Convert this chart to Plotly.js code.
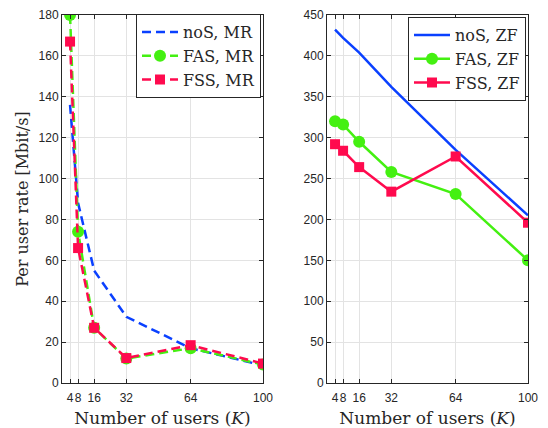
<!DOCTYPE html>
<html>
<head>
<meta charset="utf-8">
<script src="https://cdn.plot.ly/plotly-3.0.1.min.js"></script>
<style>html,body{margin:0;padding:0;background:#fff;}#chart{width:548px;height:428px;}</style>
</head>
<body>
<div id="chart"></div>
<script>
// Data
const users = [4, 8, 16, 32, 64, 100];
const noS_MR = [136, 88, 55, 32.4, 17, 8.6];
const FAS_MR = [180, 74, 27, 12, 17, 9];
const FSS_MR = [167, 66, 27, 12.2, 18.5, 9.5];
const noS_ZF = [432, 422, 404, 362, 285, 205];
const FAS_ZF = [320, 316, 295, 258, 231, 150];
const FSS_ZF = [292, 284, 264, 234, 277, 196];
const xTicks = [4, 8, 16, 32, 64, 100];
const leftYTicks = [0, 20, 40, 60, 80, 100, 120, 140, 160, 180];
const rightYTicks = [0, 50, 100, 150, 200, 250, 300, 350, 400, 450];

const BLUE = '#0a40ff', GREEN = '#44f011', RED = '#ff0a4e';
const serif = "'DejaVu Serif', 'Liberation Serif', serif";
const sans = "'Liberation Sans', Arial, sans-serif";

const traces = [
  {x: users, y: noS_MR, name: 'noS, MR', mode: 'lines', line: {color: BLUE, width: 2.5, dash: '9px,5px'}, xaxis: 'x', yaxis: 'y', legend: 'legend'},
  {x: users, y: FAS_MR, name: 'FAS, MR', mode: 'lines+markers', line: {color: GREEN, width: 2.5, dash: '9px,5px'}, marker: {symbol: 'circle', size: 12, color: GREEN}, xaxis: 'x', yaxis: 'y', legend: 'legend'},
  {x: users, y: FSS_MR, name: 'FSS, MR', mode: 'lines+markers', line: {color: RED, width: 2.5, dash: '9px,5px'}, marker: {symbol: 'square', size: 10, color: RED}, xaxis: 'x', yaxis: 'y', legend: 'legend'},
  {x: users, y: noS_ZF, name: 'noS, ZF', mode: 'lines', line: {color: BLUE, width: 2.5}, xaxis: 'x2', yaxis: 'y2', legend: 'legend2'},
  {x: users, y: FAS_ZF, name: 'FAS, ZF', mode: 'lines+markers', line: {color: GREEN, width: 2.5}, marker: {symbol: 'circle', size: 12, color: GREEN}, xaxis: 'x2', yaxis: 'y2', legend: 'legend2'},
  {x: users, y: FSS_ZF, name: 'FSS, ZF', mode: 'lines+markers', line: {color: RED, width: 2.5}, marker: {symbol: 'square', size: 10, color: RED}, xaxis: 'x2', yaxis: 'y2', legend: 'legend2'}
];

function xa(domain, anchor) {
  return {
    domain: domain, anchor: anchor, range: [0, 100], tickvals: xTicks, ticktext: xTicks.map(String),
    tickangle: 0, automargin: false, ticklabelstandoff: 4,
    showgrid: true, gridcolor: '#e3e3e3', gridwidth: 1, zeroline: false,
    showline: true, linecolor: '#262626', linewidth: 1, mirror: 'ticks',
    ticks: 'inside', ticklen: 4, tickcolor: '#262626',
    tickfont: {family: sans, size: 12, color: '#262626'},
    title: {text: 'Number of users (<i>K</i>)', font: {family: serif, size: 17, color: '#262626'}, standoff: 8}
  };
}
function ya(domain, anchor, range, ticks, title) {
  const o = {
    domain: domain, anchor: anchor, range: range, tickvals: ticks, automargin: false,
    showgrid: true, gridcolor: '#e3e3e3', gridwidth: 1, zeroline: false,
    showline: true, linecolor: '#262626', linewidth: 1, mirror: 'ticks',
    ticks: 'inside', ticklen: 4, tickcolor: '#262626',
    tickfont: {family: sans, size: 12, color: '#262626'}
  };
  if (title) o.title = {text: title, font: {family: serif, size: 16, color: '#262626'}, standoff: 5};
  return o;
}
const yd = [45/428, 413/428];
const legFont = {family: serif, size: 16, color: '#262626'};
const layout = {
  width: 548, height: 428,
  margin: {l: 0, r: 0, t: 0, b: 0},
  paper_bgcolor: '#fff', plot_bgcolor: '#fff',
  showlegend: true,
  xaxis: xa([62/548, 263/548], 'y'),
  yaxis: ya(yd, 'x', [0, 180], leftYTicks, 'Per user rate [Mbit/s]'),
  xaxis2: xa([327/548, 528/548], 'y2'),
  yaxis2: ya(yd, 'x2', [0, 450], rightYTicks, null),
  legend: {x: 261/548, y: 414/428, xanchor: 'right', yanchor: 'top', bgcolor: '#fff', bordercolor: '#262626', borderwidth: 1,
    font: legFont, tracegroupgap: 0, itemwidth: 36},
  legend2: {x: 526/548, y: 411/428, xanchor: 'right', yanchor: 'top', bgcolor: '#fff', bordercolor: '#262626', borderwidth: 1,
    font: legFont, tracegroupgap: 0, itemwidth: 36}
};
Plotly.newPlot('chart', traces, layout, {displayModeBar: false, staticPlot: true});
</script>
</body>
</html>
